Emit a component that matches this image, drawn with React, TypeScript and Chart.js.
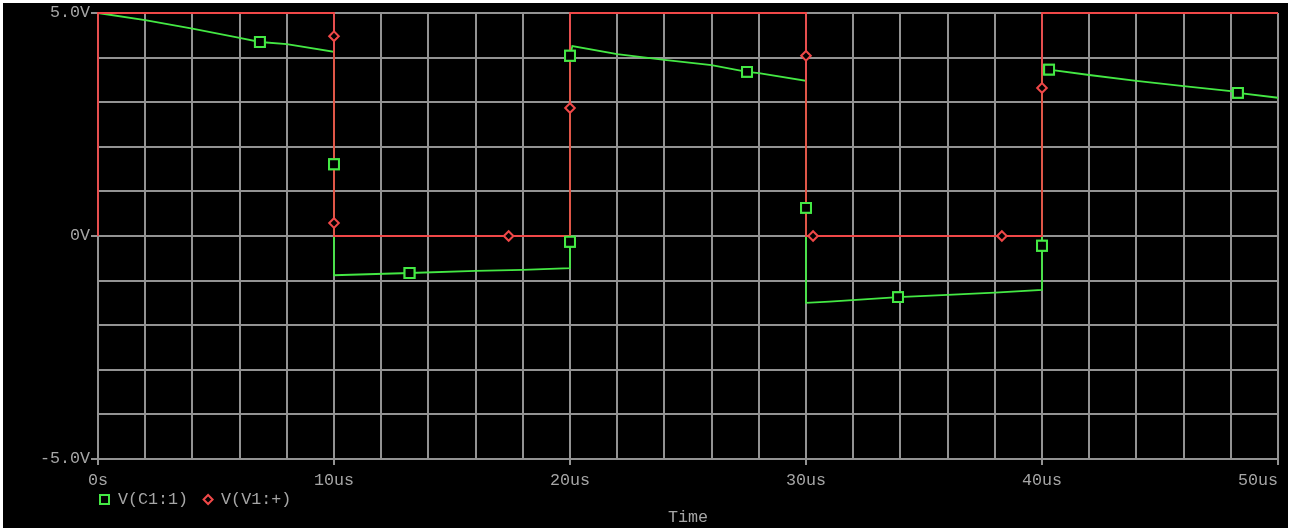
import React, { useEffect, useRef } from 'react';
import { Chart, registerables } from 'chart.js';

Chart.register(...registerables);

// V(C1:1) trace, time in microseconds, value in volts
const c1Time = [0, 2, 4, 6, 6.86, 8, 10, 10, 10, 13.2, 16, 18, 20, 20, 20, 20.1, 22, 24, 26, 27.5, 28, 30, 30, 30, 31, 33.9, 36, 38, 40, 40, 40, 40.3, 42, 44, 46, 48, 48.3, 50];
const c1Volt = [5.0, 4.84, 4.65, 4.44, 4.35, 4.3, 4.13, 1.61, -0.88, -0.83, -0.78, -0.76, -0.72, -0.13, 4.04, 4.26, 4.08, 3.95, 3.83, 3.68, 3.65, 3.48, 0.63, -1.5, -1.47, -1.37, -1.32, -1.27, -1.21, -0.22, 3.72, 3.73, 3.61, 3.48, 3.36, 3.25, 3.21, 3.1];
const c1Marked = [0, 0, 0, 0, 1, 0, 0, 1, 0, 1, 0, 0, 0, 1, 1, 0, 0, 0, 0, 1, 0, 0, 1, 0, 0, 1, 0, 0, 0, 1, 0, 1, 0, 0, 0, 0, 1, 0];

// V(V1:+) trace
const v1Time = [0, 0, 10, 10, 10, 10, 17.4, 20, 20, 20, 30, 30, 30, 30.3, 38.3, 40, 40, 40, 50];
const v1Volt = [0, 5, 5, 4.48, 0.29, 0, 0, 0, 2.87, 5, 5, 4.04, 0, 0, 0, 0, 3.32, 5, 5];
const v1Marked = [0, 0, 0, 1, 1, 0, 1, 0, 1, 0, 0, 1, 0, 1, 1, 0, 1, 0, 0];

const seriesLabels = ['V(C1:1)', 'V(V1:+)'];

const xLabelValues = [0, 10, 20, 30, 40, 50];
const xLabelTexts = ['0s', '10us', '20us', '30us', '40us', '50us'];
const yLabelValues = [5, 0, -5];
const yLabelTexts = ['5.0V', '0V', '-5.0V'];
const xAxisTitle = 'Time';

const GREEN = '#44e844';
const RED = '#f04848';
const GRID = '#939393';
const TEXT = '#a6a6a6';
const FONT_FAMILY = '"Liberation Mono", "DejaVu Sans Mono", monospace';
const FONT_SIZE = 16.7;

function findLabel(values: number[], texts: string[], v: number): string | null {
  for (let i = 0; i < values.length; i++) {
    if (Math.abs(values[i] - v) < 1e-6) return texts[i];
  }
  return null;
}

const backgroundPlugin = {
  id: 'bgPlugin',
  beforeDraw(chart: any) {
    const ctx = chart.ctx;
    ctx.save();
    ctx.fillStyle = '#ffffff';
    ctx.fillRect(0, 0, chart.width, chart.height);
    ctx.fillStyle = '#000000';
    ctx.fillRect(3, 3, chart.width - 5, chart.height - 3);
    ctx.restore();
  },
};

const pointsOnTopPlugin = {
  id: 'pointsOnTop',
  afterDatasetsDraw(chart: any) {
    const meta = chart.getDatasetMeta(0);
    const ctx = chart.ctx;
    ctx.save();
    meta.data.forEach((p: any) => p.draw(ctx, chart.chartArea));
    ctx.restore();
  },
};

const legendPlugin = {
  id: 'spiceLegend',
  afterDraw(chart: any) {
    const ctx = chart.ctx;
    const y = 499.5;
    let x = chart.chartArea.left + 2;
    ctx.save();
    ctx.font = `${FONT_SIZE}px ${FONT_FAMILY}`;
    ctx.textBaseline = 'middle';
    ctx.textAlign = 'left';
    chart.data.datasets.forEach((ds: any) => {
      ctx.strokeStyle = ds.borderColor;
      ctx.lineWidth = 2;
      if (ds.pointStyle === 'rect') {
        ctx.strokeRect(x, y - 4.5, 9, 9);
      } else {
        const cx = x + 5;
        ctx.beginPath();
        ctx.moveTo(cx - 4.5, y);
        ctx.lineTo(cx, y - 4.5);
        ctx.lineTo(cx + 4.5, y);
        ctx.lineTo(cx, y + 4.5);
        ctx.closePath();
        ctx.stroke();
      }
      ctx.fillStyle = TEXT;
      const tx = x + 18;
      ctx.fillText(ds.label, tx, y);
      x = tx + ctx.measureText(ds.label).width + 15;
    });
    ctx.restore();
  },
};

export default function App() {
  const canvasRef = useRef<HTMLCanvasElement | null>(null);

  useEffect(() => {
    if (!canvasRef.current) return;
    const c1Data = c1Time.map((t, i) => ({ x: t, y: c1Volt[i] }));
    const v1Data = v1Time.map((t, i) => ({ x: t, y: v1Volt[i] }));
    const font = { family: FONT_FAMILY, size: FONT_SIZE };

    const chart = new Chart(canvasRef.current, {
      type: 'scatter',
      data: {
        datasets: [
          {
            label: seriesLabels[0],
            data: c1Data,
            showLine: true,
            borderColor: GREEN,
            borderWidth: 1.8,
            pointStyle: 'rect',
            pointRadius: (ctx: any) => (c1Marked[ctx.dataIndex] ? 7 : 0),
            pointHoverRadius: 0,
            pointBorderWidth: 2,
            pointBorderColor: GREEN,
            pointBackgroundColor: '#000000',
            clip: 6,
            order: 1,
          } as any,
          {
            label: seriesLabels[1],
            data: v1Data,
            showLine: true,
            borderColor: RED,
            borderWidth: 1.8,
            pointStyle: 'rectRot',
            pointRadius: (ctx: any) => (v1Marked[ctx.dataIndex] ? 4.8 : 0),
            pointHoverRadius: 0,
            pointBorderWidth: 2,
            pointBorderColor: RED,
            pointBackgroundColor: '#000000',
            clip: 6,
            order: 0,
          } as any,
        ],
      },
      options: {
        animation: false,
        responsive: false,
        devicePixelRatio: 1,
        events: [],
        layout: { padding: { top: 13, right: 12, left: 0, bottom: 0 } },
        plugins: {
          legend: { display: false },
          tooltip: { enabled: false },
        },
        scales: {
          x: {
            type: 'linear',
            min: 0,
            max: 50,
            grid: {
              color: GRID,
              lineWidth: 2,
              drawTicks: true,
              tickLength: 6,
              tickColor: (ctx: any) =>
                ctx.tick && findLabel(xLabelValues, xLabelTexts, ctx.tick.value) !== null ? GRID : 'rgba(0,0,0,0)',
            },
            border: { color: GRID, width: 2 },
            ticks: {
              stepSize: 2,
              autoSkip: false,
              maxRotation: 0,
              minRotation: 0,
              padding: 6,
              color: TEXT,
              font,
              callback: (v: any, i: number, ticks: any[]) => {
                const s = findLabel(xLabelValues, xLabelTexts, Number(v));
                if (s === null) return '';
                // last label sits flush against the right edge of the plot
                return i === ticks.length - 1 ? s + ' '.repeat(s.length) : s;
              },
            },
            title: {
              display: true,
              text: xAxisTitle,
              color: TEXT,
              font,
              padding: { top: 0, bottom: 0 },
            },
            afterFit: (scale: any) => {
              scale.height = 69;
              scale.paddingLeft = 0;
              scale.paddingRight = 0;
            },
          },
          y: {
            type: 'linear',
            min: -5,
            max: 5,
            grid: {
              color: GRID,
              lineWidth: 2,
              drawTicks: true,
              tickLength: 7,
              tickColor: (ctx: any) =>
                ctx.tick && findLabel(yLabelValues, yLabelTexts, ctx.tick.value) !== null ? GRID : 'rgba(0,0,0,0)',
            },
            border: { color: GRID, width: 2 },
            ticks: {
              stepSize: 1,
              autoSkip: false,
              padding: 1,
              color: TEXT,
              font,
              callback: (v: any) => {
                const s = findLabel(yLabelValues, yLabelTexts, Number(v));
                return s === null ? '' : s;
              },
            },
            afterFit: (scale: any) => {
              scale.width = 98;
              scale.paddingTop = 0;
              scale.paddingBottom = 0;
            },
          },
        },
      },
      plugins: [backgroundPlugin, pointsOnTopPlugin, legendPlugin],
    });

    return () => chart.destroy();
  }, []);

  return (
    <div style={{ position: 'absolute', left: 0, top: 0, width: 1290, height: 528 }}>
      <canvas ref={canvasRef} width={1290} height={528} style={{ display: 'block' }} />
    </div>
  );
}
